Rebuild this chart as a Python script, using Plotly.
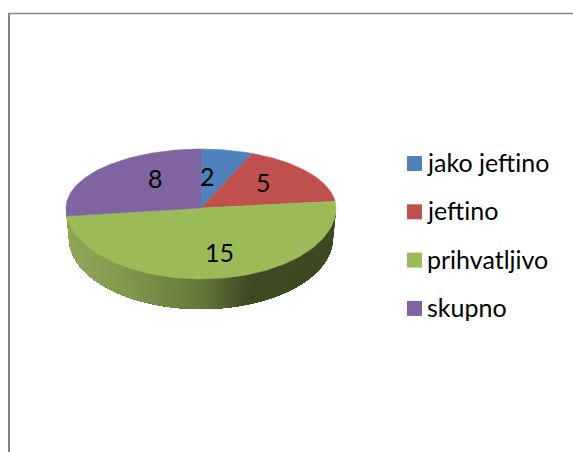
import numpy as np
import plotly.graph_objects as go

categories = ["jako jeftino", "jeftino", "prihvatljivo", "skupno"]
values = [2, 5, 15, 8]
colors = ["#4f81bd", "#c0504d", "#9bbb59", "#8064a2"]
label_nudges = [(-10, -3), (-3, 5), (10, -2), (15, 6)]  # pixel fine tuning of data labels

FONT = "Lato"
FS_LABEL = 25
FS_LEGEND = 25
W, H = 573, 452
CX, CY, RX, RY_UP, RY_DN = 201, 208, 135, 59, 71
BCY, BRX = 238, 132
LEG_X, LEG_Y, LEG_STEP = 414.5, 163.5, 48.3
LEG_TEXT_DX, LEG_TEXT_DY = 10.5, -1.5
GRAD = [(66, (143, 168, 90)), (110, (134, 158, 80)), (150, (120, 144, 71)),
        (201, (100, 121, 58)), (230, (80, 95, 46)), (250, (63, 75, 35)), (336, (62, 74, 34))]


def top_pt(a):
    a = np.radians(a)
    c = np.cos(a)
    return CX + RX * np.sin(a), CY - np.where(c > 0, RY_UP, RY_DN) * c


def bot_pt(a):
    a = np.radians(a)
    return CX + BRX * np.sin(a), BCY - RY_DN * np.cos(a)


def grad_color(x):
    xs = [g[0] for g in GRAD]
    return "rgb(%d,%d,%d)" % tuple(np.interp(x, xs, [g[1][i] for g in GRAD]) for i in range(3))


fig = go.Figure()

# side wall of the pie: painted in overlapping layers so no seams show
for a0 in np.linspace(90, 270, 181)[:-1]:
    aa = np.linspace(a0, 270, 120)
    tx, ty = top_pt(aa)
    bx, by = bot_pt(aa)
    col = grad_color(float(top_pt(a0)[0]))
    fig.add_trace(go.Scatter(
        x=np.r_[tx, bx[::-1]], y=np.r_[ty, by[::-1]], fill="toself", mode="lines",
        line=dict(color=col, width=0), fillcolor=col, showlegend=False, hoverinfo="skip"))

# top faces, from the values (small angular warp for the 3D perspective)
total = sum(values)
bounds = np.r_[0, np.cumsum(values)] / total * 360
drawn = bounds - 2.4 * np.sin(np.radians(2 * bounds))
for i, cat in enumerate(categories):
    aa = np.linspace(drawn[i], drawn[i + 1], 100)
    px, py = top_pt(aa)
    fig.add_trace(go.Scatter(
        x=np.r_[CX, px, CX], y=np.r_[CY, py, CY], fill="toself", mode="lines",
        line=dict(color=colors[i], width=0.5), fillcolor=colors[i], name=cat,
        showlegend=False, hoverinfo="name"))

annotations = []

# legend: swatch + text, laid out by index
for i, cat in enumerate(categories):
    ly = LEG_Y + i * LEG_STEP
    fig.add_trace(go.Scatter(
        x=[LEG_X], y=[ly], mode="markers", name=cat, showlegend=False, hoverinfo="name",
        marker=dict(symbol="square", size=15, color=colors[i])))
    annotations.append(dict(x=LEG_X + LEG_TEXT_DX, y=ly + LEG_TEXT_DY, text=cat, showarrow=False,
                            xanchor="left", font=dict(family=FONT, size=FS_LEGEND, color="#000000")))

for i, v in enumerate(values):
    mid = (bounds[i] + bounds[i + 1]) / 2
    a = np.radians(mid)
    c = np.cos(a)
    lx = CX + 0.6 * RX * np.sin(a)
    ly = CY - 0.6 * (RY_UP if c > 0 else RY_DN) * c
    annotations.append(dict(x=lx, y=ly, text=str(v), showarrow=False,
                            xshift=label_nudges[i][0], yshift=label_nudges[i][1],
                            font=dict(family=FONT, size=FS_LABEL, color="#000000")))

fig.update_layout(
    width=W, height=H, margin=dict(l=0, r=0, t=0, b=0),
    paper_bgcolor="white", plot_bgcolor="white", showlegend=False,
    xaxis=dict(range=[0, W], visible=False, fixedrange=True),
    yaxis=dict(range=[H, 0], visible=False, fixedrange=True),
    annotations=annotations,
    shapes=[
        dict(type="line", x0=8, x1=W, y0=13.5, y1=13.5, line=dict(color="#868686", width=1.5)),
        dict(type="line", x0=9, x1=9, y0=13, y1=H, line=dict(color="#868686", width=2)),
    ],
)

fig.write_html("out.html", config=dict(displayModeBar=False),
               post_script="document.body.style.margin='0';")
